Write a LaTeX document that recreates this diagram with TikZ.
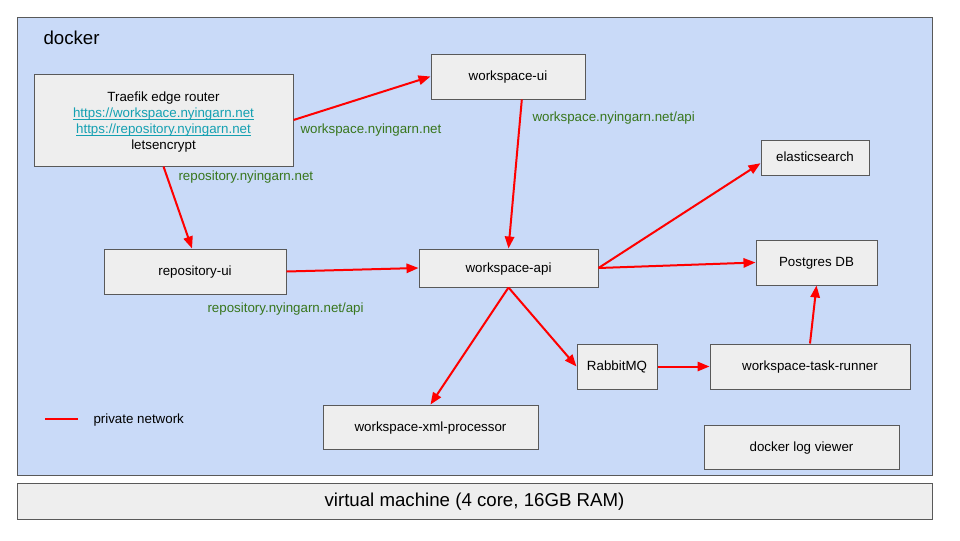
\documentclass[tikz,border=0pt]{standalone}
\usepackage{fontspec}
\setmainfont{Liberation Sans}
\usetikzlibrary{arrows.meta}

\definecolor{dockerblue}{RGB}{201,218,248}
\definecolor{boxgray}{RGB}{238,238,238}
\definecolor{edgegray}{RGB}{89,89,89}
\definecolor{hostgreen}{RGB}{56,118,29}
\definecolor{linkteal}{RGB}{20,160,178}

\tikzset{every picture/.style={line width=0.75pt}}
\tikzset{
  oneline/.style={text height=8pt, text depth=2pt, font=\fontsize{10}{12}\selectfont},
  service/.style={draw=edgegray, fill=boxgray, line width=0.75pt, inner sep=0.75pt, oneline},
  hostlabel/.style={anchor=west, inner sep=0.75pt, text=hostgreen, oneline},
  privnet/.style={draw=red, line width=1.5pt, -{Triangle[length=9pt,width=7pt]}},
}
\newcommand{\weblink}[1]{\textcolor{linkteal}{\setbox0\hbox{#1}\rlap{\rule[-1.6pt]{\wd0}{0.5pt}}\box0}}

\begin{document}
\begin{tikzpicture}[x=0.75pt,y=0.75pt,yscale=-1,xscale=1]
\useasboundingbox (0,0) rectangle (960,540); %set diagram to 960 x 540

%Shape: Rectangle [docker]
\draw [draw=edgegray, fill=dockerblue] (17,17) rectangle (932,475) ;
%Shape: Rectangle [virtual machine]
\draw [draw=edgegray, fill=boxgray] (17,483) rectangle (932,519) ;

% Text Node
\node [anchor=west, inner sep=0.75pt, font=\fontsize{14}{16}\selectfont] (docker) at (42,37.5) {docker};
% Text Node
\node [inner sep=0.75pt, text height=10.5pt, text depth=3pt, font=\fontsize{14}{16}\selectfont] (vm) at (474.5,501) {virtual machine (4 core, 16GB RAM)};

% Services
\node [service, align=center, text height=46.25pt, text depth=2pt, minimum width=194.25pt, minimum height=69pt] (traefik) at (163.5,120)
  {Traefik edge router\\ \weblink{https://workspace.nyingarn.net}\\ \weblink{https://repository.nyingarn.net}\\ letsencrypt};
\node [service, minimum width=115.5pt, minimum height=33.75pt] (wsui) at (508,76.5) {workspace-ui};
\node [service, minimum width=81pt, minimum height=26.25pt] (elastic) at (815,157.5) {elasticsearch};
\node [service, minimum width=90.75pt, minimum height=33.75pt] (postgres) at (816.5,262.5) {Postgres DB};
\node [service, minimum width=136.5pt, minimum height=33.75pt] (repoui) at (195,271.5) {repository-ui};
\node [service, minimum width=134.25pt, minimum height=28.5pt] (wsapi) at (508.5,268) {workspace-api};
\node [service, minimum width=60pt, minimum height=33.75pt] (rabbit) at (617,366.5) {RabbitMQ};
\node [service, minimum width=150pt, minimum height=33.75pt] (runner) at (810,366.5) {workspace-task-runner};
\node [service, minimum width=161.25pt, minimum height=33pt] (xmlproc) at (430.5,427) {workspace-xml-processor};
\node [service, minimum width=146.25pt, minimum height=33pt] (logview) at (801.5,447) {docker log viewer};

% Host names
\node [hostlabel] (wshost) at (299,129) {workspace.nyingarn.net};
\node [hostlabel] (repohost) at (177,176) {repository.nyingarn.net};
\node [hostlabel] (wsapihost) at (531,117) {workspace.nyingarn.net/api};
\node [hostlabel] (repoapihost) at (206,308) {repository.nyingarn.net/api};

%Straight Lines
\draw [privnet] (traefik.east) -- (wsui.west) ;
\draw [privnet] (traefik.south) -- ([xshift=-2.25pt]repoui.north) ;
\draw [privnet] (wsui.-59) -- (wsapi.north) ;
\draw [privnet] (repoui.east) -- (wsapi.west) ;
\draw [privnet] (wsapi.east) -- (elastic.186) ;
\draw [privnet] (wsapi.east) -- (postgres.west) ;
\draw [privnet] (wsapi.south) -- (xmlproc.north) ;
\draw [privnet] (wsapi.south) -- (rabbit.west) ;
\draw [privnet] (rabbit.east) -- (runner.west) ;
\draw [privnet] (runner.north) -- (postgres.south) ;

% Legend
\coordinate (legA) at (45,419) ;
\coordinate (legB) at (78,419) ;
\draw [draw=red, line width=1.5pt] (legA) -- (legB) ;
\node [anchor=west, inner sep=0.75pt, oneline] (legtext) at (92,419) {private network};

\end{tikzpicture}
\end{document}
